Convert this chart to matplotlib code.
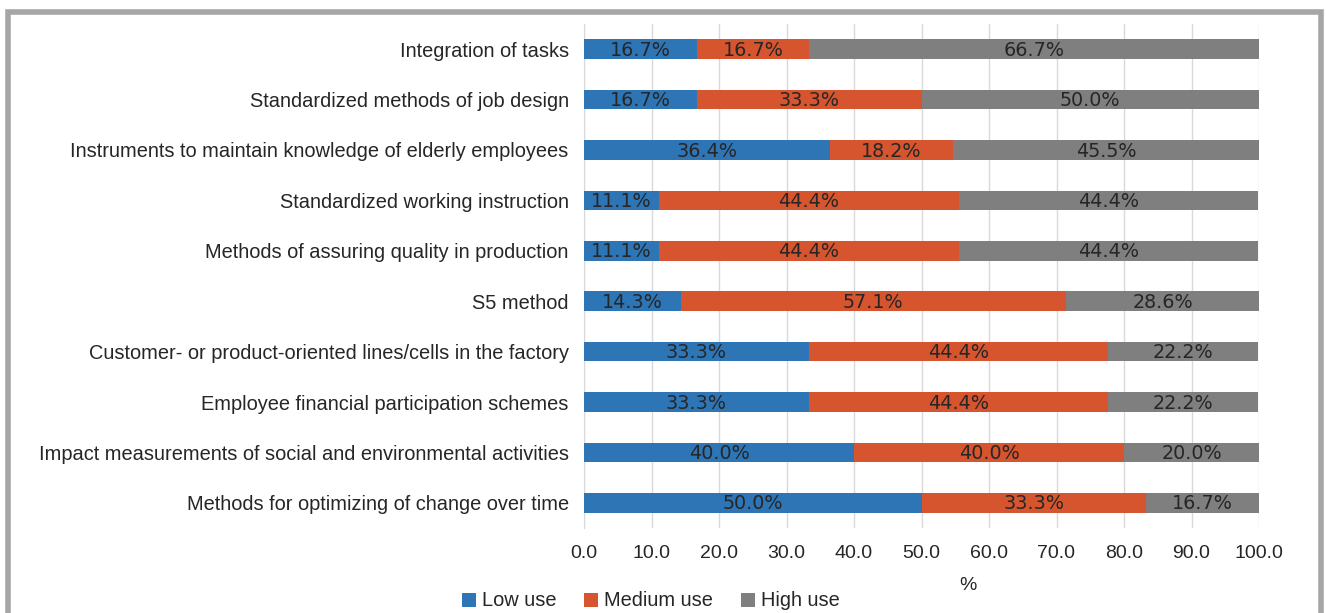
import matplotlib.pyplot as plt
from matplotlib.patches import Rectangle
import numpy as np

# categories, top to bottom as shown
categories = [
    "Integration of tasks",
    "Standardized methods of job design",
    "Instruments to maintain knowledge of elderly employees",
    "Standardized working instruction",
    "Methods of assuring quality in production",
    "S5 method",
    "Customer- or product-oriented lines/cells in the factory",
    "Employee financial participation schemes",
    "Impact measurements of social and environmental activities",
    "Methods for optimizing of change over time",
]
low_use = [16.7, 16.7, 36.4, 11.1, 11.1, 14.3, 33.3, 33.3, 40.0, 50.0]
medium_use = [16.7, 33.3, 18.2, 44.4, 44.4, 57.1, 44.4, 44.4, 40.0, 33.3]
high_use = [66.7, 50.0, 45.5, 44.4, 44.4, 28.6, 22.2, 22.2, 20.0, 16.7]
series_names = ["Low use", "Medium use", "High use"]
colors = ["#2E75B6", "#D6552E", "#7F7F7F"]
xticks = np.arange(0, 101, 10)

plt.rcParams['font.family'] = ['Liberation Sans', 'DejaVu Sans']

fig = plt.figure(figsize=(13.26, 6.13), dpi=100)
ax = fig.add_axes([584/1326, 1 - 528/613, (1259-584)/1326, (528-24)/613])

y = np.arange(len(categories))
left = np.zeros(len(categories))
for vals, name, col in zip([low_use, medium_use, high_use], series_names, colors):
    vals = np.array(vals)
    bars = ax.barh(y, vals, left=left, height=0.39, color=col, label=name, zorder=3)
    for b, v in zip(bars, vals):
        ax.text(b.get_x() + b.get_width() / 2, b.get_y() + b.get_height() / 2 + 0.02,
                f"{v:.1f}%", ha='center', va='center', fontsize=13.8,
                family='DejaVu Sans', color='#262626', zorder=4)
    left = left + vals

ax.set_xlim(0, 100)
ax.set_ylim(len(categories) - 0.5, -0.5)
ax.set_yticks(y)
ax.set_yticklabels(categories, fontsize=14.4, color='#262626', va='center_baseline')
ax.set_xticks(xticks)
ax.set_xticklabels([f"{t:.1f}" for t in xticks], fontsize=14, color='#262626')
ax.tick_params(axis='y', length=0, pad=11)
ax.tick_params(axis='x', length=0, pad=12)
ax.grid(axis='x', color='#D9D9D9', linewidth=1, zorder=0)
for s in ['top', 'right', 'bottom']:
    ax.spines[s].set_visible(False)
ax.spines['left'].set_color('#D9D9D9')

fig.text(968/1326, 1 - 585/613, "%", ha='center', va='center', fontsize=14, color='#262626')

handles, labels = ax.get_legend_handles_labels()
fig.legend(handles, labels, loc='center', bbox_to_anchor=(651/1326, 1 - 601/613),
           ncol=3, frameon=False, fontsize=14.4, handlelength=0.7, handleheight=0.7,
           handletextpad=0.3, columnspacing=1.4, labelcolor='#262626')

# outer frame
fig.patches.append(Rectangle((8/1326, -0.05), (1321-8)/1326, 1.05 - 12/613,
                             transform=fig.transFigure, fill=False,
                             edgecolor='#A6A6A6', linewidth=4))

fig.savefig("out.png", dpi=100)
